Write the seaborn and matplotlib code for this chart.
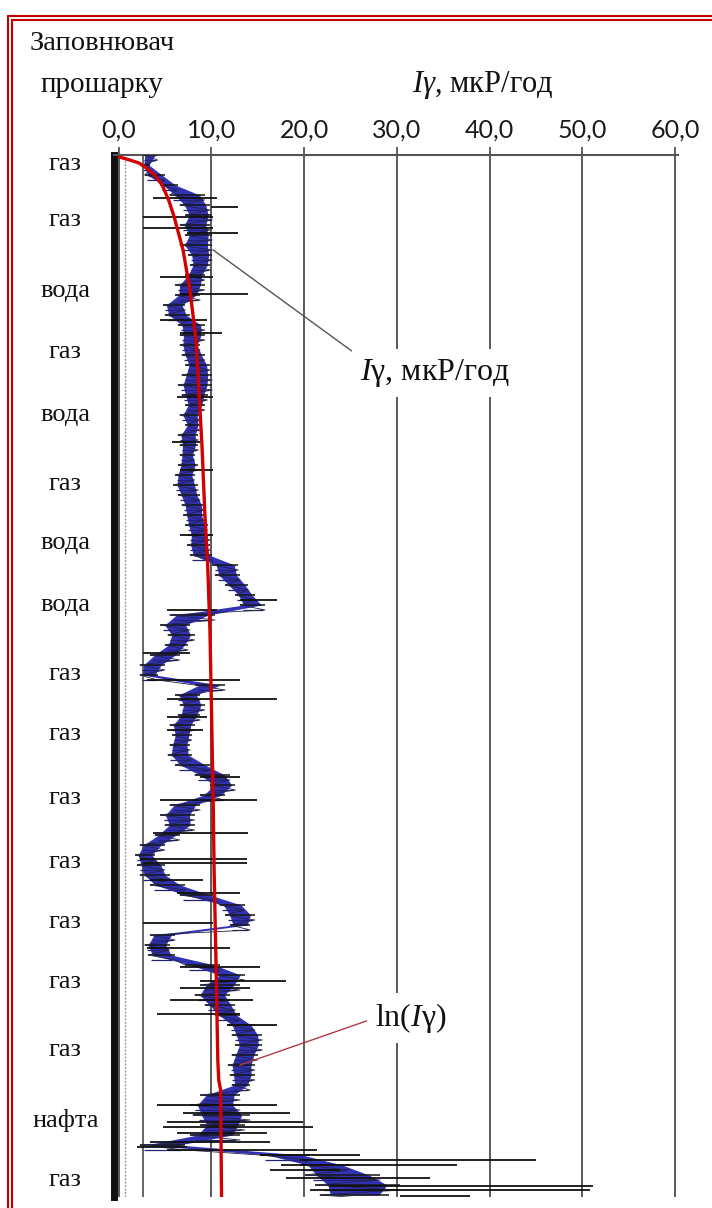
import numpy as np
import pandas as pd
import matplotlib
matplotlib.use("Agg")
import matplotlib.pyplot as plt
from matplotlib.lines import Line2D
import seaborn as sns

# ---------------- data ----------------
layer_labels = ["газ", "газ", "вода", "газ", "вода", "газ", "вода", "вода", "газ",
                "газ", "газ", "газ", "газ", "газ", "газ", "нафта", "газ"]
layer_depth = [0.7, 6.3, 13.3, 19.5, 25.8, 32.7, 38.5, 44.8, 51.7,
               57.7, 64.0, 70.5, 76.5, 82.5, 89.3, 96.3, 102.3]

x_ticks = [0, 10, 20, 30, 40, 50, 60]
x_tick_labels = ["0,0", "10,0", "20,0", "30,0", "40,0", "50,0", "60,0"]

# Iγ trace: sampling depth, left and right edge of the dense core
iy_depth = list(range(0, 105))
iy_lo = [2.6, 2.6, 2.8, 4.5, 5.5, 6.6, 7.2, 6.6, 7.2, 6.6,
         7.5, 7.7, 7.2, 6.1, 6.1, 4.8, 5.0, 6.4, 6.6, 6.6,
         6.8, 7.2, 6.8, 6.4, 6.8, 7.2, 6.6, 7.2, 6.4, 6.6,
         6.6, 6.4, 6.1, 5.9, 6.4, 6.8, 7.0, 7.2, 7.5, 7.4,
         7.7, 10.1, 10.4, 11.5, 12.6, 13.1, 5.5, 4.5, 5.3, 5.0,
         3.4, 2.3, 2.3, 8.2, 6.1, 6.6, 6.4, 5.5, 5.8, 5.5,
         5.3, 6.1, 8.2, 9.9, 8.8, 5.5, 4.5, 5.0, 3.9, 2.3,
         1.8, 2.0, 2.3, 3.4, 6.6, 10.9, 11.5, 12.0, 3.4, 2.8,
         3.2, 7.2, 10.4, 8.8, 8.2, 9.3, 10.4, 11.8, 12.2, 12.6,
         12.2, 11.8, 12.0, 12.2, 8.8, 7.7, 8.0, 8.8, 7.7, 2.3,
         15.2, 19.6, 20.1, 21.2, 21.7]
iy_hi = [4.2, 3.4, 5.0, 6.4, 9.3, 9.9, 10.1, 9.9, 10.1, 10.1,
         10.1, 9.9, 9.3, 9.3, 8.8, 7.2, 7.7, 9.3, 9.3, 8.8,
         9.3, 9.9, 10.1, 10.1, 9.6, 9.3, 8.8, 8.8, 8.6, 8.6,
         8.2, 8.6, 8.2, 8.6, 8.8, 9.3, 9.3, 9.6, 9.9, 9.9,
         10.1, 12.9, 13.1, 14.0, 14.7, 15.8, 10.4, 7.7, 8.2, 7.5,
         6.6, 5.0, 4.2, 11.5, 8.8, 9.3, 8.8, 8.2, 7.9, 7.7,
         7.9, 9.9, 12.0, 12.6, 11.5, 8.8, 8.2, 8.2, 6.6, 5.0,
         3.9, 5.0, 5.5, 7.2, 10.4, 13.6, 14.7, 14.2, 6.1, 5.5,
         6.1, 10.9, 13.6, 13.1, 12.0, 12.6, 13.1, 14.7, 15.5, 15.5,
         15.0, 14.7, 14.7, 14.2, 13.1, 13.1, 14.2, 13.6, 13.1, 7.2,
         20.6, 24.9, 28.2, 30.3, 29.2]

# isolated excursions of the Iγ trace (depth, from, to)
spike_depth = [4.3, 5.2, 6.2, 7.3, 7.8, 12.2, 13.9, 16.5, 17.8, 24.2,
               28.7, 31.5, 38.0, 44.5, 45.5, 49.8, 52.5, 54.4, 56.2, 57.5,
               62.2, 64.5, 67.8, 70.4, 70.8, 72.5, 73.8, 76.8, 79.3, 81.2,
               82.6, 83.3, 84.5, 85.9, 87.0, 95.0, 95.8, 96.7, 97.2, 97.8,
               98.7, 99.2, 99.5, 100.0, 100.5, 101.0, 101.5, 102.3, 103.1, 103.5,
               104.1]
spike_lo = [3.7, 10.0, 2.6, 2.6, 7.4, 4.5, 6.6, 4.5, 6.6, 6.3,
            5.8, 6.6, 6.6, 13.1, 5.2, 2.6, 3.1, 5.2, 5.2, 5.2,
            8.8, 4.5, 3.7, 2.3, 2.6, 3.4, 6.3, 2.6, 3.1, 6.6,
            8.8, 6.6, 5.5, 4.1, 11.7, 4.1, 7.0, 5.2, 4.8, 6.3,
            3.4, 2.0, 5.2, 15.2, 19.6, 17.5, 16.3, 18.0, 22.8, 20.6,
            30.3]
spike_hi = [10.6, 12.9, 10.2, 10.2, 12.9, 10.2, 14.0, 9.5, 11.2, 10.2,
            8.8, 10.2, 10.2, 17.1, 10.6, 7.7, 13.1, 17.1, 9.5, 9.1,
            13.1, 14.9, 14.0, 13.8, 13.8, 9.1, 13.1, 10.2, 12.0, 15.2,
            18.1, 14.2, 14.5, 13.1, 17.1, 17.1, 18.5, 19.9, 21.0, 16.0,
            16.3, 7.4, 21.4, 26.0, 45.0, 36.5, 23.9, 33.6, 51.1, 50.8,
            37.9]

# ln(Iγ) curve
ln_depth = [0.2, 0.5, 0.8, 1.3, 2.0, 3.0, 4.5, 6.2, 9.5, 13.5, 18.5, 22.5,
            29.2, 35.8, 40.8, 47.5, 54.5, 64.5, 71.5, 80.5, 90.5, 92.5, 93.5, 104.2]
ln_value = [0.1, 1.2, 2.2, 3.0, 3.9, 4.7, 5.4, 6.0, 6.95, 7.7, 8.35, 8.6,
            9.0, 9.3, 9.6, 9.85, 10.0, 10.2, 10.3, 10.5, 10.7, 10.8, 11.0, 11.1]

noise_floor = 2.6      # thin grey reference trace
baseline_level = 0.7   # faint dotted trace next to the axis

# ---------------- style ----------------
sns.set_theme(style="white")
plt.rcParams['font.family'] = ['Liberation Serif', 'DejaVu Sans']
plt.rcParams['mathtext.fontset'] = 'custom'
plt.rcParams['mathtext.rm'] = 'Liberation Serif'
plt.rcParams['mathtext.it'] = 'Liberation Serif:italic'

W, H = 712, 1208
fig = plt.figure(figsize=(W / 100, H / 100), dpi=100)
fig.patch.set_facecolor('white')
ax_left, ax_right, ax_top, ax_bottom = 113.9, 678.0, 155.0, 1197.0
ax = fig.add_axes([ax_left / W, 1 - ax_bottom / H,
                   (ax_right - ax_left) / W, (ax_bottom - ax_top) / H])
ax.set_facecolor('white')

# reference traces
ax.axvline(baseline_level, color='#9a9a9a', lw=1.0, ls=(0, (1.5, 1)), zorder=1)
ax.axvline(noise_floor, color='#3c3c3c', lw=1.1, zorder=1)

# dense core of the Iγ trace
dep = np.asarray(iy_depth, dtype=float)
lo = np.asarray(iy_lo)
hi = np.asarray(iy_hi)
width = hi - lo
ax.fill_betweenx(dep, lo + 0.15 * width, hi - 0.15 * width,
                 color='#3232b4', lw=0, zorder=2)
ax.hlines(dep, lo, hi, color='#151515', lw=1.1, zorder=3)
ax.hlines(dep + 0.5, lo + 0.1 * width, hi - 0.1 * width,
          color='#22227a', lw=0.9, zorder=3)
zz = pd.DataFrame({
    'x': np.ravel(np.column_stack([lo, hi])),
    'd': np.ravel(np.column_stack([dep, dep + 0.5])),
})
sns.lineplot(data=zz, x='x', y='d', sort=False, estimator=None, orient='y',
             color='#222244', lw=0.6, ax=ax, zorder=3)
ax.hlines(spike_depth, spike_lo, spike_hi, color='#111111', lw=1.3, zorder=3)

# ln(Iγ)
sns.lineplot(x=ln_value, y=ln_depth, sort=False, estimator=None, orient='y',
             color='#d40000', lw=2.4, ax=ax, zorder=4)

# axes
ax.set_xlim(-0.5, 60.3)
ax.set_ylim(104.2, 0)
ax.set_xticks(x_ticks, x_tick_labels)
ax.xaxis.tick_top()
ax.tick_params(axis='x', length=6, width=1.3, color='#555555', pad=4,
               labelsize=18, labelcolor='#1a1a1a', labelfontfamily='Lato')
ax.set_yticks(layer_depth, layer_labels)
ax.tick_params(axis='y', length=0, pad=35, labelsize=19, labelcolor='#111111')
for lbl in ax.get_yticklabels():
    lbl.set_horizontalalignment('center')
ax.grid(axis='x', color='#4d4d4d', lw=1.3)
ax.grid(axis='y', visible=False)
ax.set_axisbelow(True)
for s in ['right', 'bottom']:
    ax.spines[s].set_visible(False)
ax.spines['left'].set_color('#111111')
ax.spines['left'].set_linewidth(5)
ax.spines['top'].set_color('#555555')
ax.spines['top'].set_linewidth(1.5)
ax.set_xlabel('')
ax.set_ylabel('')

# annotations
ax.annotate("$I$γ, мкР/год", xy=(10.2, 9.5), xytext=(34.1, 21.8),
            ha='center', va='center', fontsize=23, color='#111111',
            bbox=dict(fc='white', ec='none', pad=6),
            arrowprops=dict(arrowstyle='-', color='#555555', lw=1.0,
                            relpos=(0, 1), shrinkA=0, shrinkB=0), zorder=6)
ax.annotate("ln($I$γ)", xy=(13.1, 91.0), xytext=(31.5, 86.3),
            ha='center', va='center', fontsize=23, color='#111111',
            bbox=dict(fc='white', ec='none', pad=6),
            arrowprops=dict(arrowstyle='-', color='#b03a48', lw=1.0,
                            relpos=(0, 0.5), shrinkA=0, shrinkB=0), zorder=6)

# header
fig.text(30 / W, 1 - 43 / H, "Заповнювач", ha='left', va='center', fontsize=20.5, color='#111111')
fig.text(41 / W, 1 - 85 / H, "прошарку", ha='left', va='center', fontsize=21, color='#111111')
fig.text(412 / W, 1 - 85 / H, "$Iγ$, мкР/год", ha='left', va='center', fontsize=22, color='#111111')

# double red frame (top and left)
red = '#c00000'
for off in (8.0, 11.5):
    fig.add_artist(Line2D([off / W, 1], [1 - (off + 8) / H, 1 - (off + 8) / H],
                          color=red, lw=1.5))
    fig.add_artist(Line2D([off / W, off / W], [0, 1 - (off + 8) / H],
                          color=red, lw=1.5))

fig.savefig('out.png', dpi=100)
